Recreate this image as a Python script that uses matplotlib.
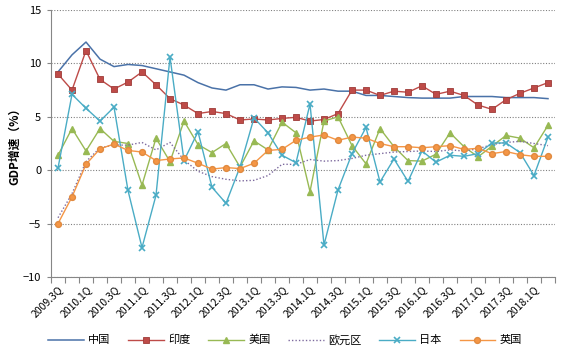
import matplotlib
matplotlib.use("Agg")
import matplotlib.pyplot as plt

plt.rcParams['font.family'] = ['Noto Sans CJK SC', 'DejaVu Sans']

# 季度标签（每季度一个点，2009.3Q - 2018.2Q）
quarters = []
for year in range(2009, 2019):
    for q in range(1, 5):
        if (year == 2009 and q < 3) or (year == 2018 and q > 2):
            continue
        quarters.append(f"{year}.{q}Q")

china = [9.2, 10.8, 12.0, 10.4, 9.7, 9.9, 9.8, 9.5, 9.2, 8.9, 8.2, 7.7, 7.5, 8.0, 8.0, 7.6,
         7.8, 7.75, 7.5, 7.6, 7.4, 7.4, 7.0, 7.0, 6.9, 6.8, 6.75, 6.75, 6.75, 6.9, 6.9, 6.9,
         6.8, 6.8, 6.8, 6.7]
india = [9.0, 7.5, 11.2, 8.5, 7.6, 8.25, 9.2, 8.0, 6.7, 6.1, 5.3, 5.5, 5.3, 4.7, 4.8, 4.7,
         4.85, 4.95, 4.6, 4.75, 5.3, 7.5, 7.5, 7.0, 7.4, 7.3, 7.9, 7.1, 7.4, 7.0, 6.1, 5.7,
         6.6, 7.2, 7.7, 8.2]
usa = [1.4, 3.9, 1.8, 3.9, 2.7, 2.5, -1.4, 3.0, 0.8, 4.6, 2.4, 1.65, 2.5, 0.3, 2.75, 1.9,
       4.5, 3.5, -2.0, 4.6, 5.0, 2.3, 0.6, 3.9, 2.2, 0.9, 0.85, 1.5, 3.5, 2.2, 1.25, 2.25,
       3.25, 3.0, 2.1, 4.2]
euro = [-4.45, -2.2, 0.8, 2.1, 2.35, 2.35, 2.6, 1.9, 2.6, 0.95, -0.1, -0.6, -0.85, -1.0, -0.95, -0.5,
        0.55, 0.55, 1.0, 0.85, 0.9, 1.1, 1.4, 1.55, 1.7, 1.75, 1.8, 1.75, 1.9, 1.8, 2.0, 2.4,
        2.6, 2.7, 2.5, 2.3]
japan = [0.2, 7.1, 5.8, 4.6, 5.9, -1.9, -7.25, -2.35, 10.6, 0.9, 3.6, -1.6, -3.1, 0.3, 4.9, 3.5,
         1.4, 0.7, 6.2, -7.0, -1.85, 1.55, 4.0, -1.1, 1.05, -1.05, 1.8, 0.75, 1.4, 1.3, 1.55, 2.55,
         2.55, 1.65, -0.5, 3.1]
uk = [-5.0, -2.5, 0.55, 2.0, 2.45, 1.85, 1.7, 0.9, 1.05, 1.15, 0.65, 0.1, 0.25, 0.15, 0.65, 1.85,
      1.95, 2.8, 3.1, 3.3, 2.8, 3.1, 3.0, 2.5, 2.2, 2.2, 2.1, 2.2, 2.3, 1.95, 2.05, 1.55,
      1.75, 1.45, 1.3, 1.3]

x = list(range(len(quarters)))

fig = plt.figure(figsize=(5.72, 3.53), dpi=100)
ax = fig.add_axes([51 / 572, 1 - 277 / 353, 504 / 572, 267 / 353])

ax.plot(x, china, color='#4A72A8', lw=1.1, label='中国')
ax.plot(x, india, color='#BE4B48', lw=1.0, marker='s', ms=4.2, mfc='#BE4B48', mec='#9E3B38',
        mew=0.6, label='印度')
ax.plot(x, usa, color='#98B954', lw=1.0, marker='^', ms=4.5, label='美国')
ax.plot(x, euro, color='#7D6A9E', lw=1.0, ls=(0, (1, 1.5)), label='欧元区')
ax.plot(x, japan, color='#4AACC5', lw=1.0, marker='x', ms=4, mew=1.2, label='日本')
ax.plot(x, uk, color='#F59645', lw=1.0, marker='o', ms=4.2, mec='#E08A40', label='英国')

ax.set_xlim(-0.5, len(quarters) - 0.5)
ax.set_ylim(-10, 15)
ax.set_yticks([-10, -5, 0, 5, 10, 15])
ax.grid(axis='y', color='#808080', ls=(0, (1, 1.5)), lw=0.8)
ax.set_axisbelow(True)

# 分类轴：刻度线在类别之间，标签隔一个显示
ax.set_xticks([i - 0.5 for i in range(len(quarters) + 1)])
ax.set_xticklabels([])
ax.set_xticks(x[::2], minor=True)
ax.set_xticklabels(quarters[::2], minor=True, rotation=45, ha='right', va='top',
                   rotation_mode='anchor', fontsize=7.5)
ax.tick_params(axis='x', which='major', length=4, color='#868686', width=0.8)
ax.tick_params(axis='x', which='minor', length=0, pad=5)
ax.tick_params(axis='y', length=3, color='#868686', width=0.8, labelsize=8, pad=4)

for side in ['top', 'right']:
    ax.spines[side].set_visible(False)
for side in ['left', 'bottom']:
    ax.spines[side].set_color('#868686')
    ax.spines[side].set_linewidth(0.8)

ax.set_ylabel('GDP增速（%）', fontsize=8.5, fontweight='bold', labelpad=1)

fig.legend(loc='center', bbox_to_anchor=(285 / 572, 1 - 340 / 353), ncol=6, frameon=False,
           fontsize=8, handlelength=3.2, columnspacing=1.6, handletextpad=0.4)

fig.savefig('out.png', dpi=100)
